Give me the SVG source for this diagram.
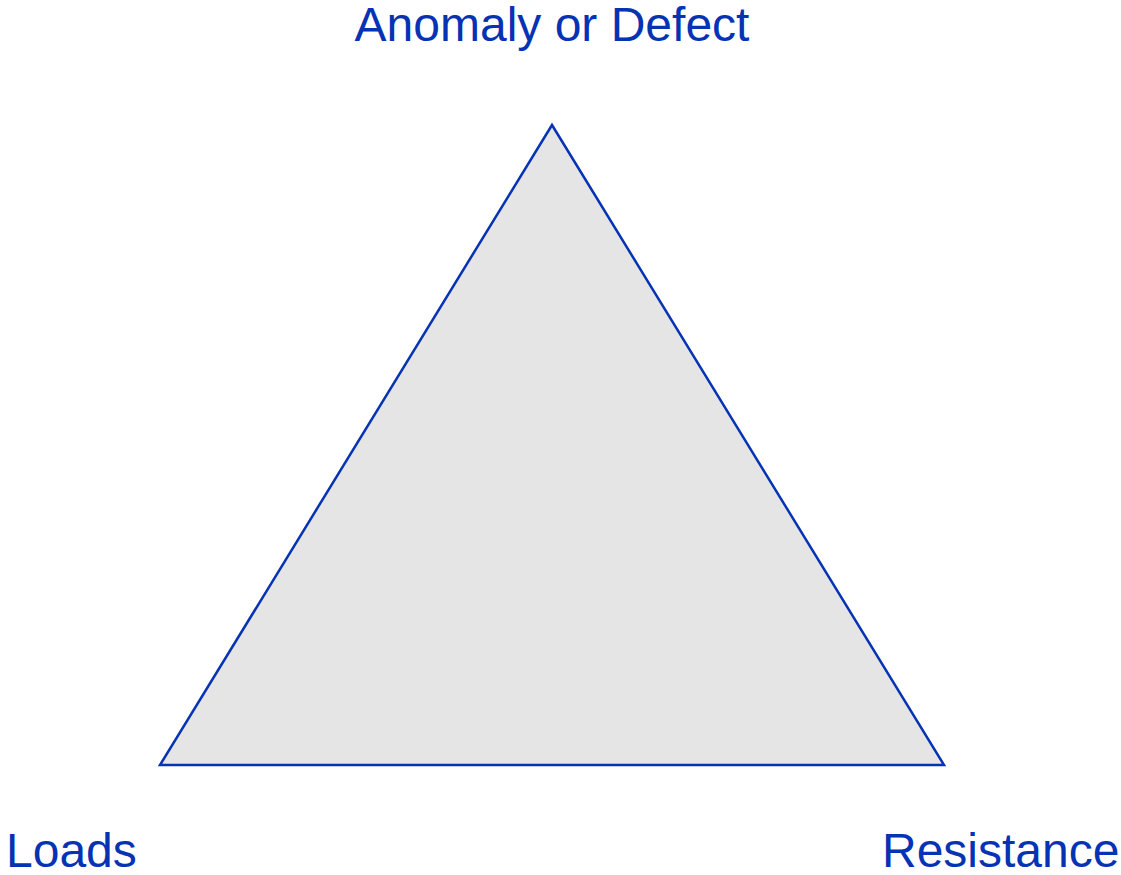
<svg xmlns="http://www.w3.org/2000/svg" width="1121" height="875" viewBox="0 0 1121 875">
<style>
.lbl{font-family:"Liberation Sans",Arial,sans-serif;font-size:48px;fill:#0533b4}
.tri{fill:#e5e5e5;stroke:#0533b4;stroke-width:2.5;stroke-linejoin:miter}
</style>
<rect width="1121" height="875" fill="#ffffff"/>
<g id="triangle">
<polygon class="tri" points="552,125 160,765 944,765"/>
</g>
<g id="connectors"></g>
<g id="node-anomaly"><text class="lbl" x="552" y="41" text-anchor="middle">Anomaly or Defect</text></g>
<g id="node-loads"><text class="lbl" x="6" y="867">Loads</text></g>
<g id="node-resistance"><text class="lbl" x="882" y="867">Resistance</text></g>
</svg>
